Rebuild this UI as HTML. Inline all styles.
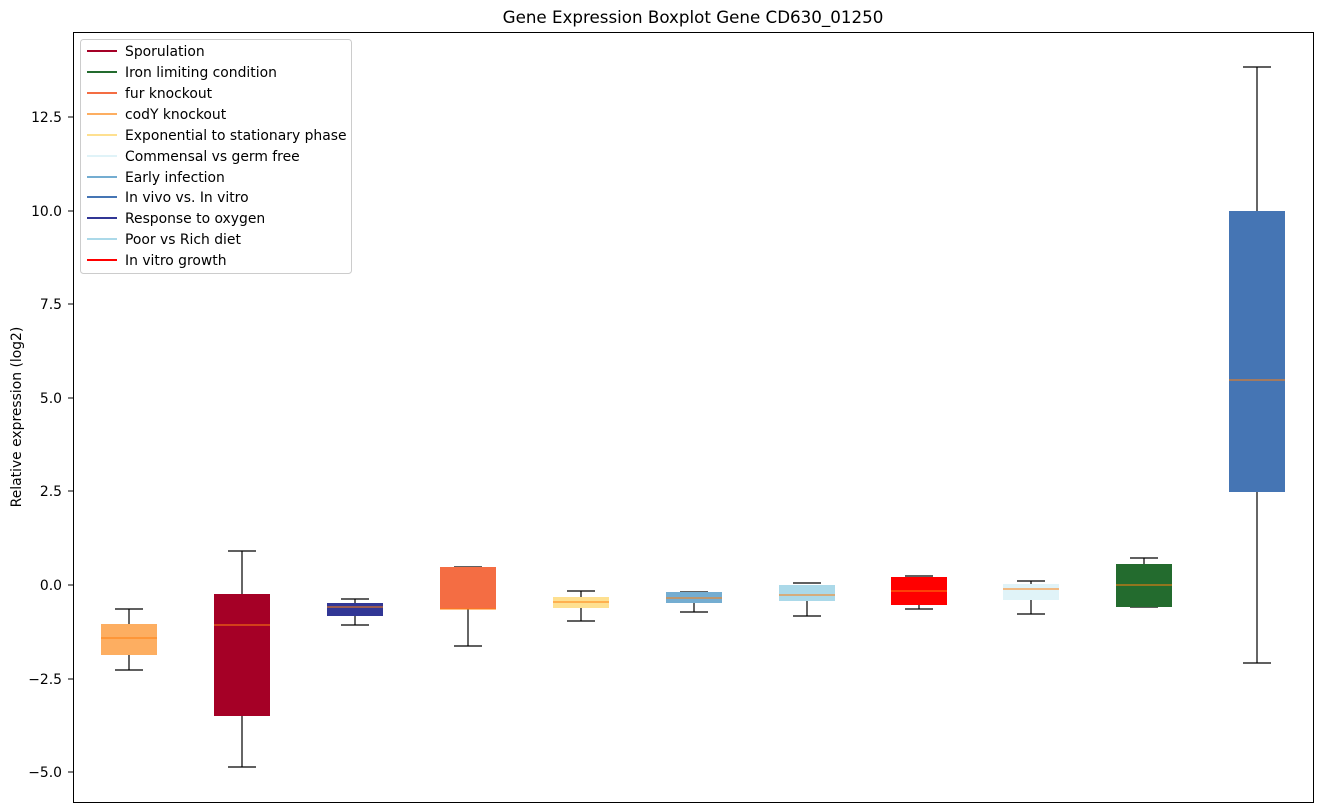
<!DOCTYPE html>
<html><head><style>body{margin:0;background:#fff}svg{display:block;font-family:"DejaVu Sans","Liberation Sans",sans-serif}</style></head><body>
<svg width="1322" height="812" viewBox="0 0 1322 812">
<rect width="1322" height="812" fill="#fff"/>
<text x="693" y="23" font-size="16.7" text-anchor="middle">Gene Expression Boxplot Gene CD630_01250</text>
<text transform="translate(21,417) rotate(-90)" font-size="13.9" text-anchor="middle">Relative expression (log2)</text>
<g font-size="13.9" text-anchor="end">
<text x="62" y="122">12.5</text><text x="62" y="216">10.0</text><text x="62" y="309">7.5</text><text x="62" y="403">5.0</text><text x="62" y="496">2.5</text><text x="62" y="590">0.0</text><text x="62" y="684">−2.5</text><text x="62" y="777">−5.0</text>
</g>
<g stroke="#000"><line x1="68" y1="117" x2="73" y2="117"/><line x1="68" y1="211" x2="73" y2="211"/><line x1="68" y1="304" x2="73" y2="304"/><line x1="68" y1="398" x2="73" y2="398"/><line x1="68" y1="491" x2="73" y2="491"/><line x1="68" y1="585" x2="73" y2="585"/><line x1="68" y1="679" x2="73" y2="679"/><line x1="68" y1="772" x2="73" y2="772"/></g>
<g stroke="#000" stroke-width="1.2" fill="none">
<path d="M129 609V624M129 655V670M115 609H143M115 670H143"/>
<path d="M242 551V594M242 716V767M228 551H256M228 767H256"/>
<path d="M355 599V603M355 616V625M341 599H369M341 625H369"/>
<path d="M468 609V646M454 567H482M454 646H482"/>
<path d="M581 591V597M581 608V621M567 591H595M567 621H595"/>
<path d="M694 603V612M680 592H708M680 612H708"/>
<path d="M807 601V616M793 583H821M793 616H821"/>
<path d="M919 605V609M905 576H933M905 609H933"/>
<path d="M1031 581V584M1031 600V614M1017 581H1045M1017 614H1045"/>
<path d="M1144 558V564M1130 558H1158M1130 607H1158"/>
<path d="M1257 67V211M1257 492V663M1243 67H1271M1243 663H1271"/>
</g>
<g>
<rect x="101" y="624" width="56" height="31" fill="#fdae61"/>
<rect x="214" y="594" width="56" height="122" fill="#a50026"/>
<rect x="327" y="603" width="56" height="13" fill="#313695"/>
<rect x="440" y="567" width="56" height="42" fill="#f46d43"/>
<rect x="553" y="597" width="56" height="11" fill="#fee090"/>
<rect x="666" y="592" width="56" height="11" fill="#74add1"/>
<rect x="779" y="585" width="56" height="16" fill="#abd9e9"/>
<rect x="891" y="577" width="56" height="28" fill="#ff0000"/>
<rect x="1003" y="584" width="56" height="16" fill="#e0f3f8"/>
<rect x="1116" y="564" width="56" height="43" fill="#236b2e"/>
<rect x="1229" y="211" width="56" height="281" fill="#4575b4"/>
</g>
<g stroke="#ff7f0e" stroke-width="1">
<line x1="101" y1="638" x2="157" y2="638"/><line x1="214" y1="625" x2="270" y2="625"/><line x1="327" y1="607" x2="383" y2="607"/><line x1="440" y1="609" x2="496" y2="609"/><line x1="553" y1="602" x2="609" y2="602"/><line x1="666" y1="598" x2="722" y2="598"/><line x1="779" y1="595" x2="835" y2="595"/><line x1="891" y1="591" x2="947" y2="591"/><line x1="1003" y1="589" x2="1059" y2="589"/><line x1="1116" y1="585" x2="1172" y2="585"/><line x1="1229" y1="380" x2="1285" y2="380"/>
</g>
<rect x="73.5" y="32.5" width="1240" height="770" fill="none" stroke="#000"/>
<rect x="80.5" y="39.5" width="271" height="234" rx="3" fill="#fff" fill-opacity="0.8" stroke="#ccc"/>
<g stroke-width="2">
<line x1="87" y1="51" x2="117" y2="51" stroke="#a50026"/><line x1="87" y1="72" x2="117" y2="72" stroke="#236b2e"/><line x1="87" y1="93" x2="117" y2="93" stroke="#f46d43"/><line x1="87" y1="114" x2="117" y2="114" stroke="#fdae61"/><line x1="87" y1="135" x2="117" y2="135" stroke="#fee090"/><line x1="87" y1="156" x2="117" y2="156" stroke="#e0f3f8"/><line x1="87" y1="177" x2="117" y2="177" stroke="#74add1"/><line x1="87" y1="197" x2="117" y2="197" stroke="#4575b4"/><line x1="87" y1="218" x2="117" y2="218" stroke="#313695"/><line x1="87" y1="239" x2="117" y2="239" stroke="#abd9e9"/><line x1="87" y1="260" x2="117" y2="260" stroke="#ff0000"/>
</g>
<g font-size="13.9">
<text x="125" y="56">Sporulation</text><text x="125" y="77">Iron limiting condition</text><text x="125" y="98">fur knockout</text><text x="125" y="119">codY knockout</text><text x="125" y="140">Exponential to stationary phase</text><text x="125" y="161">Commensal vs germ free</text><text x="125" y="182">Early infection</text><text x="125" y="202">In vivo vs. In vitro</text><text x="125" y="223">Response to oxygen</text><text x="125" y="244">Poor vs Rich diet</text><text x="125" y="265">In vitro growth</text>
</g>
</svg>
</body></html>
